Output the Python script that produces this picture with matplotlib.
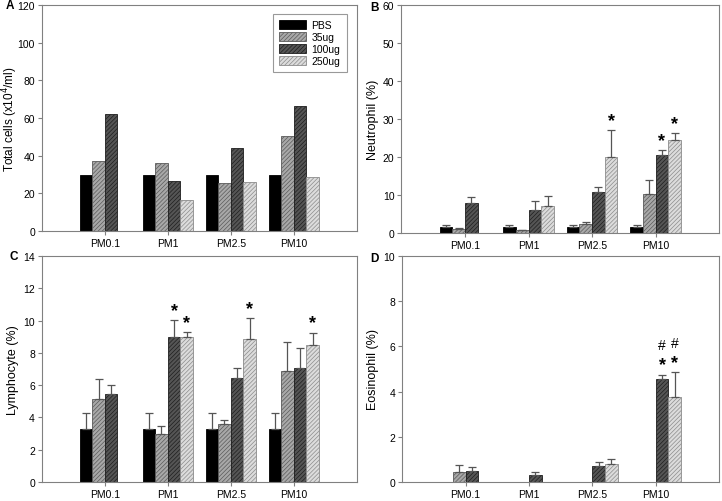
import numpy as np
import matplotlib.pyplot as plt

plt.rcParams["font.family"] = ["Liberation Sans", "DejaVu Sans"]

# === Données ===
categories = ["PM0.1", "PM1", "PM2.5", "PM10"]
groups = ["PBS", "35ug", "100ug", "250ug"]
nan = np.nan

total_cells = {
    "PBS":   [29.5, 29.5, 29.5, 29.5],
    "35ug":  [37.0, 36.0, 25.3, 50.3],
    "100ug": [62.3, 26.7, 43.9, 66.2],
    "250ug": [nan, 16.6, 25.8, 28.4],
}

neutro = {
    "PBS":   [1.5, 1.5, 1.5, 1.5],
    "35ug":  [1.0, 0.7, 2.3, 10.3],
    "100ug": [8.0, 6.0, 10.9, 20.6],
    "250ug": [nan, 7.0, 19.9, 24.4],
}
neutro_err = {
    "PBS":   [0.5, 0.5, 0.5, 0.5],
    "35ug":  [0.4, 0.2, 0.7, 3.7],
    "100ug": [1.5, 2.3, 1.1, 1.3],
    "250ug": [nan, 2.7, 7.1, 1.8],
}
neutro_star = {"250ug": [2, 3], "100ug": [3]}

lympho = {
    "PBS":   [3.3, 3.3, 3.3, 3.3],
    "35ug":  [5.15, 2.95, 3.6, 6.85],
    "100ug": [5.45, 9.0, 6.45, 7.05],
    "250ug": [nan, 9.0, 8.85, 8.5],
}
lympho_err = {
    "PBS":   [0.95, 0.95, 0.95, 0.95],
    "35ug":  [1.25, 0.5, 0.25, 1.8],
    "100ug": [0.55, 1.05, 0.6, 1.25],
    "250ug": [nan, 0.3, 1.3, 0.75],
}
lympho_star = {"100ug": [1], "250ug": [1, 2, 3]}

eosino = {
    "PBS":   [0, 0, 0, 0],
    "35ug":  [0.45, 0, 0, 0],
    "100ug": [0.5, 0.3, 0.72, 4.55],
    "250ug": [nan, 0, 0.8, 3.75],
}
eosino_err = {
    "PBS":   [0, 0, 0, 0],
    "35ug":  [0.3, 0, 0, 0],
    "100ug": [0.15, 0.13, 0.18, 0.2],
    "250ug": [nan, 0, 0.22, 1.1],
}
eosino_star = {"100ug": [3], "250ug": [3]}
eosino_hash = {"100ug": [3], "250ug": [3]}

# === Style des barres (façon SigmaPlot) ===
faces = {"PBS": "#000000", "35ug": "#a8a8a8", "100ug": "#555555", "250ug": "#dcdcdc"}
edges = {"PBS": "#000000", "35ug": "#5a5a5a", "100ug": "#1e1e1e", "250ug": "#8c8c8c"}
hatches = {"PBS": None, "35ug": "////////", "100ug": "////////", "250ug": "////////"}
offsets = [-0.3, -0.1, 0.1, 0.3]
width = 0.2
x = np.arange(1, 5)
plt.rcParams["hatch.linewidth"] = 0.5


def panel(ax, data, err, ymax, ystep, ylabel, stars=None, hashes=None):
    for g, off in zip(groups, offsets):
        vals = np.array(data[g], dtype=float)
        ax.bar(x + off, vals, width, color=faces[g], edgecolor=edges[g],
               hatch=hatches[g], linewidth=0.6, label=g)
        if err is not None:
            e = np.array(err[g], dtype=float)
            mask = ~np.isnan(vals) & (e > 0)
            ax.errorbar((x + off)[mask], vals[mask], yerr=[np.zeros(mask.sum()), e[mask]],
                        fmt="none", ecolor="#555555", elinewidth=0.9, capsize=3, capthick=0.9)
    # étoiles de significativité
    if stars:
        for g, idx in stars.items():
            k = groups.index(g)
            for i in idx:
                top = data[g][i] + err[g][i]
                ax.text(x[i] + offsets[k], top + ymax * 0.005, "*", ha="center", va="bottom",
                        fontsize=13, fontweight="bold")
    if hashes:
        for g, idx in hashes.items():
            k = groups.index(g)
            for i in idx:
                top = data[g][i] + err[g][i]
                ax.text(x[i] + offsets[k], top + ymax * 0.1, "#", ha="center", va="bottom",
                        fontsize=10)
    ax.set_xlim(0, 5)
    ax.set_ylim(0, ymax)
    ax.set_yticks(np.arange(0, ymax + ystep / 2, ystep))
    ax.set_xticks(x)
    ax.set_xticklabels(categories)
    ax.set_ylabel(ylabel, fontsize=9, labelpad=3)
    ax.tick_params(labelsize=7.5, length=3, color="#808080", pad=2)
    for s in ax.spines.values():
        s.set_color("#808080")
        s.set_linewidth(0.8)


fig = plt.figure(figsize=(7.22, 5.02), dpi=100)
axA = fig.add_axes([0.058, 0.538, 0.436, 0.45])
axB = fig.add_axes([0.556, 0.534, 0.440, 0.454])
axC = fig.add_axes([0.058, 0.038, 0.436, 0.450])
axD = fig.add_axes([0.557, 0.038, 0.439, 0.450])

panel(axA, total_cells, None, 120, 20, "Total cells (x10$^4$/ml)")
panel(axB, neutro, neutro_err, 60, 10, "Neutrophil (%)", neutro_star)
panel(axC, lympho, lympho_err, 14, 2, "Lymphocyte (%)", lympho_star)
panel(axD, eosino, eosino_err, 10, 2, "Eosinophil (%)", eosino_star, eosino_hash)
axA.yaxis.set_label_coords(-0.068, 0.5)
axA.yaxis.label.set_fontsize(8.5)

# lettres des panneaux
for lab, px, py in [("A", 10, 6), ("B", 374, 8), ("C", 14, 257), ("D", 374, 259)]:
    fig.text(px / 722, 1 - py / 502, lab, fontsize=8.5, fontweight="bold",
             ha="center", va="center")

leg = axA.legend(loc="upper right", fontsize=7.5, frameon=True, fancybox=False,
                 handlelength=2.6, handleheight=0.9, borderpad=0.6, labelspacing=0.2,
                 handletextpad=0.5, bbox_to_anchor=(0.985, 0.985))
leg.get_frame().set_edgecolor("#808080")
leg.get_frame().set_linewidth(0.8)

plt.savefig("out.png", dpi=100)
